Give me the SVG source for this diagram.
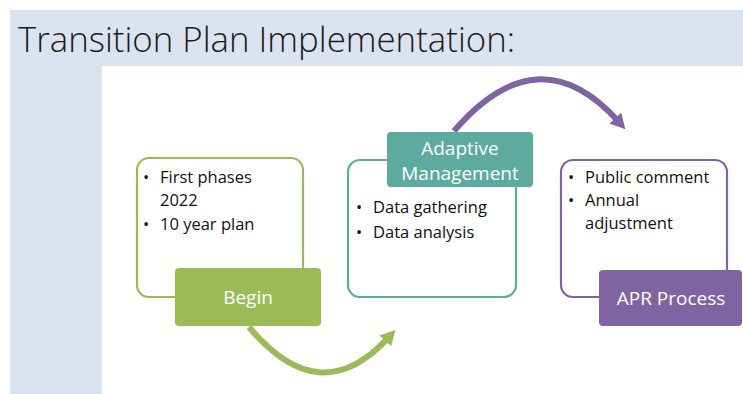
<svg xmlns="http://www.w3.org/2000/svg" width="743" height="394" viewBox="0 0 743 394">
<defs>
<style>
.title{font-family:"Open Sans","Liberation Sans",sans-serif;font-weight:300;font-size:34px;fill:#1a1a1a}
.body{font-family:"Open Sans","Liberation Sans",sans-serif;font-size:16.5px;fill:#111}
.lbl{font-family:"Open Sans","Liberation Sans",sans-serif;font-size:19px;fill:#fff;text-anchor:middle}
.outline{fill:#fff;stroke-width:2.2}
</style>
<marker id="ahG" markerUnits="userSpaceOnUse" markerWidth="20" markerHeight="20" refX="4" refY="8" orient="auto"><path d="M0,0 L15,8 L0,16 Z" fill="#9bbb59"/></marker>
<marker id="ahP" markerUnits="userSpaceOnUse" markerWidth="20" markerHeight="20" refX="4" refY="8" orient="auto"><path d="M0,0 L15,8 L0,16 Z" fill="#8064a2"/></marker>
</defs>
<rect x="0" y="0" width="743" height="394" fill="#fff"/>
<rect x="10" y="10" width="733" height="384" fill="#dbe3f1"/>
<rect x="102" y="66" width="641" height="328" fill="#fff"/>
<text class="title" x="18" y="52" textLength="497" lengthAdjust="spacingAndGlyphs">Transition Plan Implementation:</text>

<g id="connectors">
<path d="M249 327 Q320 412 388 338" fill="none" stroke="#9bbb59" stroke-width="6" marker-end="url(#ahG)"/>
<path d="M454 131 Q538 33 618 121" fill="none" stroke="#8064a2" stroke-width="6" marker-end="url(#ahP)"/>
</g>

<g id="begin">
<rect class="outline" x="137" y="158" width="166" height="139" rx="12" stroke="#9bbb59"/>
<text class="body" x="143" y="183">•</text>
<text class="body" x="160" y="183">First phases</text>
<text class="body" x="160" y="206">2022</text>
<text class="body" x="143" y="230">•</text>
<text class="body" x="160" y="230">10 year plan</text>
<rect x="175" y="268" width="146" height="58" rx="4" fill="#9bbb59"/>
<text class="lbl" x="248" y="304">Begin</text>
</g>

<g id="adaptive">
<rect class="outline" x="348" y="160" width="168" height="137" rx="12" stroke="#5dab9f"/>
<rect x="387" y="132" width="146" height="55" rx="4" fill="#5dab9f"/>
<text class="lbl" x="460" y="155">Adaptive</text>
<text class="lbl" x="460" y="180">Management</text>
<text class="body" x="356" y="213">•</text>
<text class="body" x="373" y="213">Data gathering</text>
<text class="body" x="356" y="238">•</text>
<text class="body" x="373" y="238">Data analysis</text>
</g>

<g id="apr">
<rect class="outline" x="561" y="160" width="166" height="137" rx="12" stroke="#8064a2"/>
<text class="body" x="568" y="183">•</text>
<text class="body" x="585" y="183">Public comment</text>
<text class="body" x="568" y="206">•</text>
<text class="body" x="585" y="206">Annual</text>
<text class="body" x="585" y="229">adjustment</text>
<rect x="599" y="270" width="143" height="56" rx="4" fill="#8064a2"/>
<text class="lbl" x="671" y="305">APR Process</text>
</g>
</svg>
